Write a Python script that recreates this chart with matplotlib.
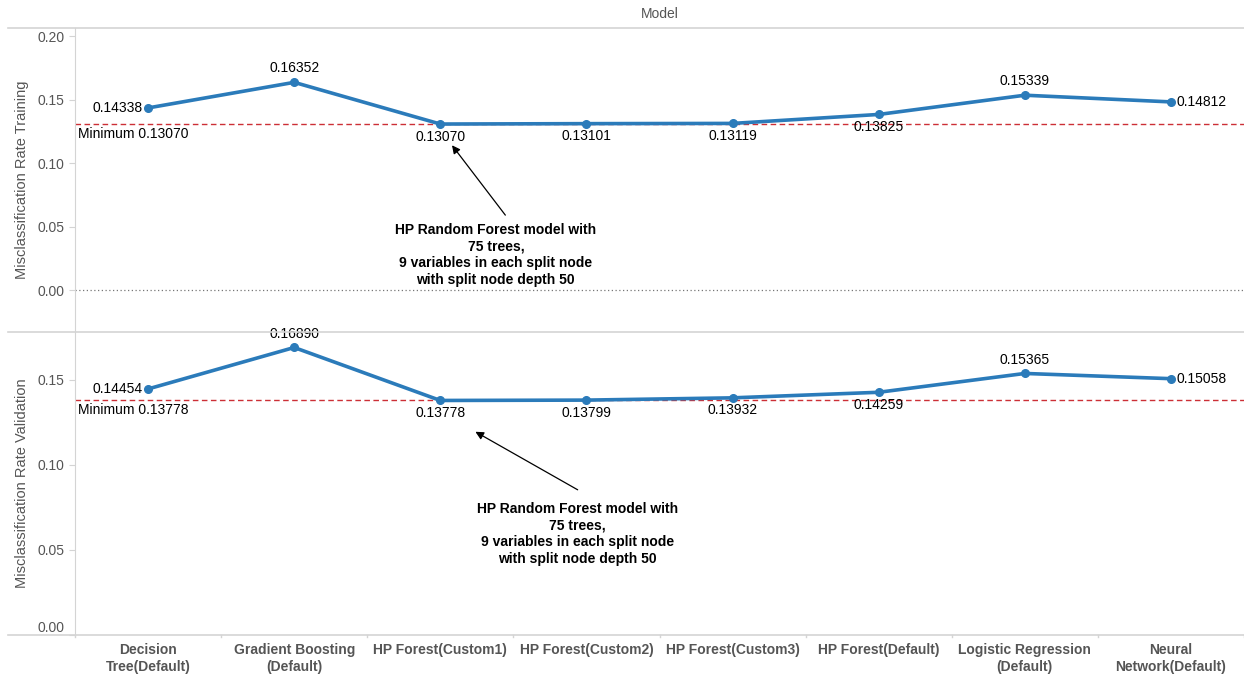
import matplotlib
matplotlib.use("Agg")
import matplotlib.pyplot as plt
import numpy as np

# data
models = ["Decision\nTree(Default)", "Gradient Boosting\n(Default)", "HP Forest(Custom1)",
          "HP Forest(Custom2)", "HP Forest(Custom3)", "HP Forest(Default)",
          "Logistic Regression\n(Default)", "Neural\nNetwork(Default)"]
train_rate = [0.14338, 0.16352, 0.13070, 0.13101, 0.13119, 0.13825, 0.15339, 0.14812]
valid_rate = [0.14454, 0.16890, 0.13778, 0.13799, 0.13932, 0.14259, 0.15365, 0.15058]
# where each data label sits relative to its point
train_pos = ["left", "above", "below", "below", "below", "below", "above", "right"]
valid_pos = ["left", "above", "below", "below", "below", "below", "above", "right"]
note = "HP Random Forest model with\n75 trees,\n9 variables in each split node\nwith split node depth 50"

plt.rcParams["font.family"] = ["Liberation Sans", "DejaVu Sans"]
LINE = "#2b7bba"
GREY = "#555555"
AXC = "#d4d4d4"
RED = "#cc2f36"

W, H = 1244, 674
fig = plt.figure(figsize=(W / 100, H / 100), dpi=100)
fig.patch.set_facecolor("white")

x0 = 75 / W
ax1 = fig.add_axes([x0, (H - 332) / H, 1 - x0, 304 / H])
ax2 = fig.add_axes([x0, (H - 635) / H, 1 - x0, 303 / H])
x = np.arange(len(models))


def label_points(ax, vals, pos):
    for xi, v, p in zip(x, vals, pos):
        txt = f"{v:.5f}"
        if p == "left":
            ax.annotate(txt, (xi, v), xytext=(-4, 0), textcoords="offset points",
                        ha="right", va="center", fontsize=10)
        elif p == "right":
            ax.annotate(txt, (xi, v), xytext=(4, 0), textcoords="offset points",
                        ha="left", va="center", fontsize=10)
        elif p == "above":
            ax.annotate(txt, (xi, v), xytext=(0, 5), textcoords="offset points",
                        ha="center", va="bottom", fontsize=10)
        else:
            ax.annotate(txt, (xi, v), xytext=(0, -4), textcoords="offset points",
                        ha="center", va="top", fontsize=10)


def style(ax):
    ax.set_xlim(-0.5, len(models) - 0.5)
    for s in ["right", "top", "bottom"]:
        ax.spines[s].set_visible(False)
    ax.spines["left"].set_color(AXC)
    ax.tick_params(axis="y", colors=AXC, labelcolor=GREY, labelsize=10, length=4)
    ax.set_yticks(ax.get_yticks())
    ax.set_yticklabels([f"{t:.2f}" for t in ax.get_yticks()])


for ax, vals, pos, ylab in [(ax1, train_rate, train_pos, "Misclassification Rate Training"),
                            (ax2, valid_rate, valid_pos, "Misclassification Rate Validation")]:
    ax.plot(x, vals, color=LINE, lw=2.6, marker="o", ms=5.5, solid_capstyle="round", zorder=3)
    mn = min(vals)
    ax.axhline(mn, color=RED, lw=1, ls=(0, (4, 2.5)), zorder=2)
    ax.annotate(f"Minimum {mn:.5f}", (-0.5, mn), xytext=(2, -2), textcoords="offset points",
                ha="left", va="top", fontsize=10)
    label_points(ax, vals, pos)
    ax.set_ylabel(ylab, color=GREY, fontsize=10.5, labelpad=6)

ax1.set_ylim(-0.033, 0.2063)
ax1.set_yticks([0.0, 0.05, 0.10, 0.15, 0.20])
ax1.axhline(0, color="#777777", lw=0.9, ls=(0, (1, 2)), zorder=1)
ax2.set_ylim(0.0, 0.178)
ax2.set_yticks([0.0, 0.05, 0.10, 0.15])
style(ax1)
style(ax2)

ax1.set_xticks([])
ax2.set_xticks(x)
ax2.set_xticklabels(models, fontsize=10, fontweight="bold", color=GREY)
ax2.tick_params(axis="x", length=0, pad=6)
# separators under the axis between categories
for b in np.arange(-0.5, len(models), 1.0):
    ax2.plot([b, b], [0, -0.006], color=AXC, lw=1, clip_on=False,
             transform=ax2.get_xaxis_transform())
ax2.get_yticklabels()[0].set_va("bottom")

# annotations: note text plus arrow pointing at the best model
arrow = dict(arrowstyle="-|>", color="black", lw=0.9, shrinkA=0, shrinkB=0, mutation_scale=12)
ax1.text(2.38, 0.0276, note, ha="center", va="center", fontsize=10, fontweight="bold",
         linespacing=1.25)
ax1.annotate("", xy=(2.08, 0.114), xytext=(2.445, 0.059), arrowprops=arrow)
ax2.text(2.94, 0.0594, note, ha="center", va="center", fontsize=10, fontweight="bold",
         linespacing=1.25)
ax2.annotate("", xy=(2.24, 0.1194), xytext=(2.94, 0.0853), arrowprops=arrow)

# frame lines and header
for yy in [28, 332, 635]:
    fig.add_artist(plt.Line2D([8 / W, 1], [(H - yy) / H] * 2, color=AXC, lw=1.2))
fig.text(660 / W, (H - 14) / H, "Model", ha="center", va="center", fontsize=10, color=GREY)

fig.savefig("out.png", dpi=100, facecolor="white")
